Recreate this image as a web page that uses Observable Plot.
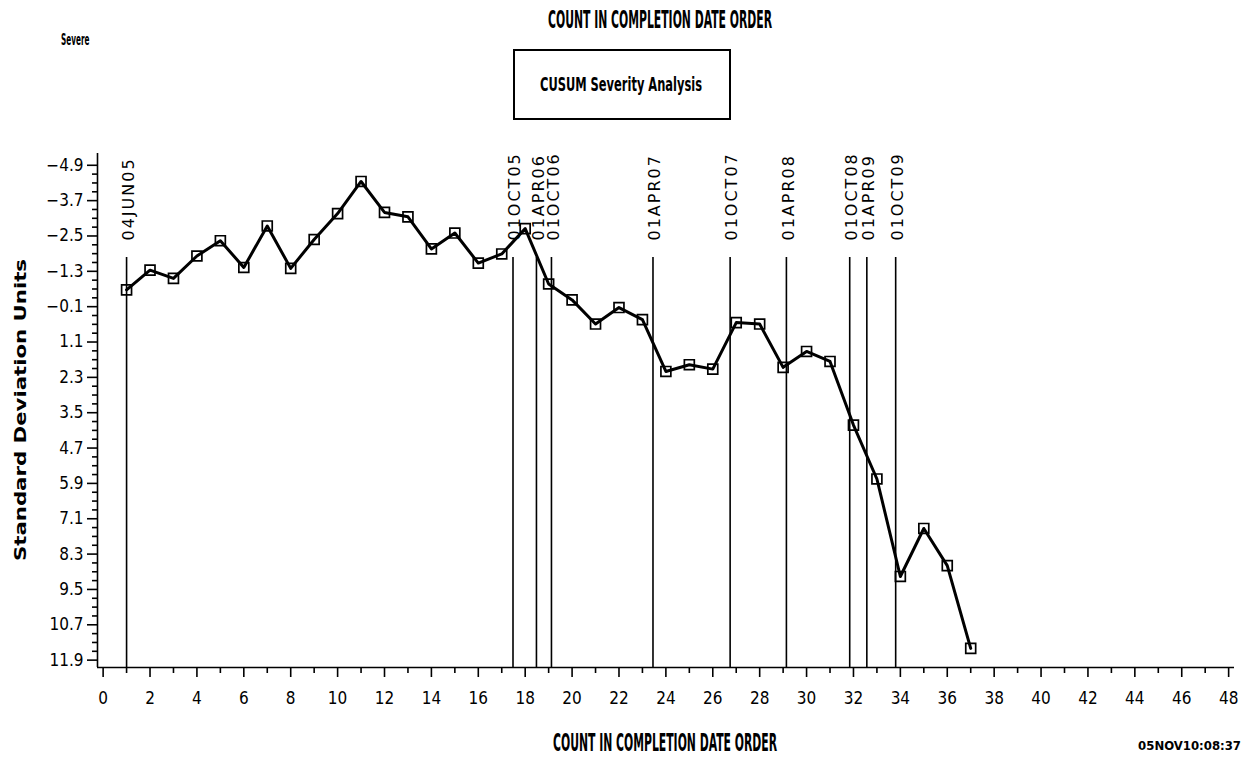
<!DOCTYPE html>
<html><head><meta charset="utf-8">
<script src="https://cdn.jsdelivr.net/npm/d3@7"></script>
<script src="https://cdn.jsdelivr.net/npm/@observablehq/plot@0.6"></script>
<style>html,body{margin:0;padding:0;background:#fff;} #chart{position:relative;width:1249px;height:760px;}</style>
</head><body><div id="chart"></div>
<script>
// Data
const counts = [1,2,3,4,5,6,7,8,9,10,11,12,13,14,15,16,17,18,19,20,21,22,23,24,25,26,27,28,29,30,31,32,33,34,35,36,37];
const cusum = [-0.67,-1.34,-1.06,-1.82,-2.34,-1.43,-2.84,-1.40,-2.38,-3.26,-4.35,-3.30,-3.15,-2.06,-2.60,-1.58,-1.89,-2.75,-0.87,-0.33,0.49,-0.07,0.34,2.10,1.87,2.02,0.44,0.49,1.96,1.42,1.76,3.92,5.75,9.06,7.43,8.69,11.50];
const refLabels = ["04JUN05","01OCT05","01APR06","01OCT06","01APR07","01OCT07","01APR08","01OCT08","01APR09","01OCT09"];
const refPositions = [1, 17.48, 18.48, 19.12, 23.45, 26.74, 29.14, 31.84, 32.57, 33.80];
const xTicks = [0,2,4,6,8,10,12,14,16,18,20,22,24,26,28,30,32,34,36,38,40,42,44,46,48];
const xMinorTicks = [1,3,5,7,9,11,13,15,17,19,21,23,25,27,29,31,33,35,37,39,41,43,45,47];
const yTicks = [-4.9,-3.7,-2.5,-1.3,-0.1,1.1,2.3,3.5,4.7,5.9,7.1,8.3,9.5,10.7,11.9];
const xDomain = [-0.24, 48.25];
const yDomain = [-5.3, 12.15];

const yMinorTicks = yTicks.slice(0, -1).flatMap(t => [t + 0.3, t + 0.6, t + 0.9]);
const data = counts.map((c, i) => ({count: c, value: cusum[i]}));
const refs = refLabels.map((l, i) => ({label: l, pos: refPositions[i]}));

const narrow = '"Liberation Sans Narrow","DejaVu Sans Condensed","Arial Narrow",sans-serif';
const fmt = d => (d < 0 ? "\u2212" : "") + Math.abs(d).toFixed(1);

const plot = Plot.plot({
  width: 1249, height: 760,
  marginLeft: 97, marginRight: 15, marginTop: 153, marginBottom: 93,
  x: {domain: xDomain, label: null},
  y: {domain: yDomain, reverse: true, label: null},
  style: {fontFamily: narrow, fontSize: "17px", background: "white", color: "black", overflow: "visible"},
  marks: [
    Plot.ruleX(refs, {x: "pos", insetTop: 104, stroke: "black", strokeWidth: 1.6}),
    Plot.text(refs, {x: "pos", text: "label", frameAnchor: "top", dy: 87, dx: 2, rotate: -90,
      textAnchor: "start", lineAnchor: "middle", fontFamily: "DejaVu Sans", fontSize: 16, fill: "black"}),
    Plot.line(data, {x: "count", y: "value", stroke: "black", strokeWidth: 3}),
    Plot.dot(data, {x: "count", y: "value", symbol: "square", r: 5.6, stroke: "black", strokeWidth: 1.7, fill: "none"}),
    Plot.ruleX([xDomain[0]], {stroke: "black", strokeWidth: 1.6}),
    Plot.ruleY([yDomain[1]], {stroke: "black", strokeWidth: 1.6}),
    Plot.axisX({ticks: xTicks, tickSize: 10, tickPadding: 14, tickFormat: d => String(d), strokeWidth: 1.6, label: null}),
    Plot.axisX({ticks: xMinorTicks, tickSize: 6, tickFormat: () => "", strokeWidth: 1.6, label: null}),
    Plot.axisY({ticks: yTicks, tickSize: 10, tickPadding: 4, tickFormat: fmt, strokeWidth: 1.6, label: null}),
    Plot.axisY({ticks: yMinorTicks, tickSize: 5, tickFormat: () => "", strokeWidth: 1.6, label: null})
  ]
});

document.getElementById("chart").appendChild(plot);
const svg = d3.select(plot);
svg.selectAll('g[aria-label="text"] text').style("letter-spacing", "2px");

const heavy = '"Liberation Sans Narrow","DejaVu Sans Condensed","Arial Narrow",sans-serif';
function addText(str, x, y, size, len, opts = {}) {
  const t = svg.append("text")
    .attr("x", x).attr("y", y)
    .attr("text-anchor", opts.anchor || "start")
    .attr("font-family", opts.family || heavy)
    .attr("font-weight", "bold")
    .attr("font-size", size)
    .attr("fill", "black")
    .text(str);
  if (len) t.attr("textLength", len).attr("lengthAdjust", "spacingAndGlyphs");
  if (opts.transform) t.attr("transform", opts.transform);
  return t;
}
addText("Severe", 61, 45, 16, 28.5);
addText("COUNT IN COMPLETION DATE ORDER", 548, 28, 24, 224);
svg.append("rect").attr("x", 514).attr("y", 50).attr("width", 216).attr("height", 69)
  .attr("fill", "none").attr("stroke", "black").attr("stroke-width", 2);
addText("CUSUM Severity Analysis", 540, 91, 19, 162);
addText("COUNT IN COMPLETION DATE ORDER", 553, 751, 24, 224);
addText("05NOV10:08:37", 1241, 750, 13, null, {anchor: "end"});
addText("Standard Deviation Units", 0, 0, 16.5, 302, {family: '"DejaVu Sans",sans-serif', transform: "translate(25.5,561) rotate(-90)"});
</script>
</body></html>
